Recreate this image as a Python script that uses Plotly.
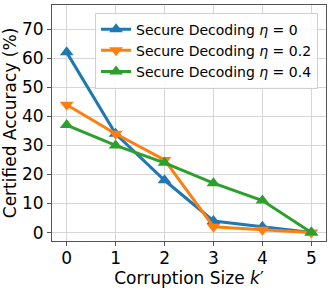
import plotly.graph_objects as go

k_values = [0, 1, 2, 3, 4, 5]
eta0 = [62, 34, 18, 4, 2, 0]
eta02 = [44, 34, 25, 2, 1, 0]
eta04 = [37, 30, 24, 17, 11, 0]
series_names = ["Secure Decoding <i>η</i> = 0",
                "Secure Decoding <i>η</i> = 0.2",
                "Secure Decoding <i>η</i> = 0.4"]
y_ticks = [0, 10, 20, 30, 40, 50, 60, 70]

colors = ["#1f77b4", "#ff7f0e", "#2ca02c"]
symbols = ["triangle-up", "triangle-down", "triangle-up"]

fig = go.Figure()
for name, vals, c, s in zip(series_names, [eta0, eta02, eta04], colors, symbols):
    fig.add_trace(go.Scatter(
        x=k_values, y=vals, name=name, mode="lines+markers",
        line=dict(color=c, width=3),
        marker=dict(symbol=s, size=12, color=c),
    ))

font = "DejaVu Sans, sans-serif"
fig.update_layout(
    width=332, height=291,
    margin=dict(l=52, r=6, t=5, b=50),
    paper_bgcolor="white", plot_bgcolor="white",
    font=dict(family=font, color="black", size=16),
    showlegend=True,
    legend=dict(
        x=0.971, y=0.968, xanchor="right", yanchor="top",
        bgcolor="rgba(255,255,255,0.85)", bordercolor="#d0d0d0", borderwidth=1,
        font=dict(size=14, family=font), tracegroupgap=0,
        itemwidth=30,
    ),
    xaxis=dict(
        range=[-0.3, 5.3], tickvals=k_values, ticktext=[str(v) for v in k_values],
        showgrid=True, gridcolor="#d6d6d6", gridwidth=1,
        showline=True, linecolor="#555", linewidth=1, mirror=True,
        ticks="outside", ticklen=4, tickcolor="#555",
        tickfont=dict(size=17), zeroline=False, ticklabelstandoff=-2,
        title=dict(text="Corruption Size <i>k</i>′", font=dict(size=17), standoff=1),
    ),
    yaxis=dict(
        range=[-2.9, 78.3], tickvals=y_ticks,
        showgrid=True, gridcolor="#d6d6d6", gridwidth=1,
        showline=True, linecolor="#555", linewidth=1, mirror=True,
        ticks="outside", ticklen=4, tickcolor="#555",
        tickfont=dict(size=17), zeroline=False,
        title=dict(text="Certified Accuracy (%)", font=dict(size=17), standoff=4),
    ),
)

fig.write_html("out.html", config={"displayModeBar": False},
               post_script="document.body.style.margin='0';")
